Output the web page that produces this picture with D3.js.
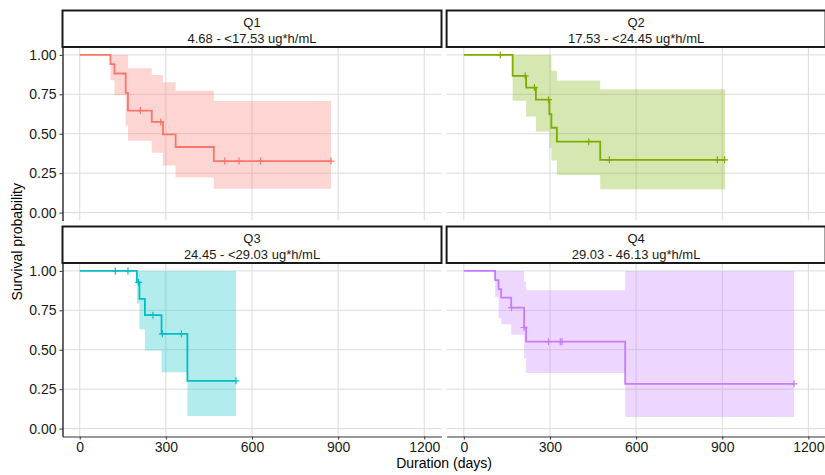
<!DOCTYPE html>
<html>
<head>
<meta charset="utf-8">
<script src="https://cdn.jsdelivr.net/npm/d3@7/dist/d3.min.js"></script>
<style>
  body { margin: 0; background: #fff; }
  text { font-family: "Liberation Sans", Arial, sans-serif; }
</style>
</head>
<body>
<div id="chart"></div>
<script>
// facets
var groups = ['Q1', 'Q2', 'Q3', 'Q4']
var ranges = ['4.68 - <17.53 ug*h/mL', '17.53 - <24.45 ug*h/mL', '24.45 - <29.03 ug*h/mL', '29.03 - 46.13 ug*h/mL']
var colors = ['#F8766D', '#7CAE00', '#00BFC4', '#C77CFF']

// Kaplan-Meier steps (time in days)
var q1Time   = [0, 107, 121, 160, 168, 251, 290, 334, 467, 875]
var q1Surv   = [1, 0.941, 0.882, 0.759, 0.647, 0.575, 0.496, 0.416, 0.327, 0.327]
var q1Upper  = [1, 1, 1, 1, 0.916, 0.873, 0.827, 0.772, 0.708, 0.708]
var q1Lower  = [1, 0.839, 0.744, 0.55, 0.456, 0.379, 0.299, 0.222, 0.152, 0.152]
var q1Censor = [211, 282, 505, 555, 630, 875]

var q2Time   = [0, 170, 217, 251, 298, 305, 324, 475, 910]
var q2Surv   = [1, 0.867, 0.793, 0.716, 0.624, 0.538, 0.45, 0.335, 0.335]
var q2Upper  = [1, 1, 1, 1, 1, 0.9, 0.838, 0.782, 0.782]
var q2Lower  = [1, 0.71, 0.609, 0.515, 0.41, 0.33, 0.239, 0.148, 0.148]
var q2Censor = [127, 214, 246, 295, 435, 507, 883, 908]

var q3Time   = [0, 199, 208, 227, 285, 375, 544]
var q3Surv   = [1, 0.927, 0.822, 0.719, 0.601, 0.303, 0.303]
var q3Upper  = [1, 1, 1, 1, 1, 1, 1]
var q3Lower  = [1, 0.794, 0.63, 0.496, 0.357, 0.08, 0.08]
var q3Censor = [124, 168, 205, 255, 288, 354, 544]

var q4Time   = [0, 109, 121, 130, 165, 210, 217, 562, 1150]
var q4Surv   = [1, 0.941, 0.885, 0.831, 0.767, 0.641, 0.551, 0.284, 0.284]
var q4Upper  = [1, 1, 1, 1, 1, 0.93, 0.878, 1, 1]
var q4Lower  = [1, 0.836, 0.7, 0.662, 0.595, 0.448, 0.352, 0.073, 0.073]
var q4Censor = [166, 210, 295, 336, 342, 1150]

var xTicks = [0, 300, 600, 900, 1200]
var yTicks = [0, 0.25, 0.5, 0.75, 1]

var times   = [q1Time, q2Time, q3Time, q4Time]
var survs   = [q1Surv, q2Surv, q3Surv, q4Surv]
var uppers  = [q1Upper, q2Upper, q3Upper, q4Upper]
var lowers  = [q1Lower, q2Lower, q3Lower, q4Lower]
var censors = [q1Censor, q2Censor, q3Censor, q4Censor]

var width = 825, height = 475
var panelW = 379, panelH = 173.5, stripH = 36.5
var colX = [62.5, 446.6], rowY = [47, 263]

var svg = d3.select('#chart')
  .append('svg')
  .attr('width', width)
  .attr('height', height)

var x = d3.scaleLinear().domain([-60, 1260]).range([0, panelW])
var y = d3.scaleLinear().domain([-0.05, 1.05]).range([panelH, 0])

var line = d3.line().curve(d3.curveStepAfter).x(d => x(d.t)).y(d => y(d.s))
var band = d3.area().curve(d3.curveStepAfter).x(d => x(d.t)).y0(d => y(d.lo)).y1(d => y(d.hi))

groups.forEach((name, i) => {
  var col = i % 2, row = Math.floor(i / 2)
  var g = svg.append('g').attr('transform', `translate(${colX[col]},${rowY[row]})`)

  // grid
  g.selectAll('.gy').data(yTicks).enter().append('line')
    .attr('x1', 0).attr('x2', panelW)
    .attr('y1', d => y(d)).attr('y2', d => y(d))
    .attr('stroke', '#dcdcdc').attr('stroke-width', 1)
  g.selectAll('.gx').data(xTicks).enter().append('line')
    .attr('y1', 0).attr('y2', panelH)
    .attr('x1', d => x(d)).attr('x2', d => x(d))
    .attr('stroke', '#dcdcdc').attr('stroke-width', 1)

  var pts = times[i].map((t, k) => ({t: t, s: survs[i][k], hi: uppers[i][k], lo: lowers[i][k]}))

  g.append('path').datum(pts)
    .attr('d', band)
    .attr('fill', colors[i]).attr('fill-opacity', 0.3)

  g.append('path').datum(pts)
    .attr('d', line)
    .attr('fill', 'none')
    .attr('stroke', colors[i]).attr('stroke-width', 1.8)

  // censor marks sit on the curve
  var survAt = t => {
    var s = 1
    times[i].forEach((tt, k) => { if (tt <= t) s = survs[i][k] })
    return s
  }
  var cg = g.selectAll('.cens').data(censors[i]).enter().append('g')
    .attr('transform', d => `translate(${x(d)},${y(survAt(d))})`)
  cg.append('path')
    .attr('d', 'M-3.5,0H3.5M0,-3.5V3.5')
    .attr('stroke', colors[i]).attr('stroke-width', 1.2)

  // axes
  if (col === 0) {
    var ay = g.append('g')
      .call(d3.axisLeft(y).tickValues(yTicks).tickFormat(d3.format('.2f')).tickSize(3).tickSizeOuter(0).tickPadding(3))
    ay.select('.domain').attr('stroke', '#000').attr('stroke-width', 1.2)
    ay.selectAll('.tick line').attr('stroke', '#333')
    ay.selectAll('.tick text').attr('fill', '#1a1a1a').style('font-size', '14px')
  }
  if (row === 1) {
    var ax = g.append('g').attr('transform', `translate(0,${panelH})`)
      .call(d3.axisBottom(x).tickValues(xTicks).tickFormat(d3.format('d')).tickSize(3).tickSizeOuter(0).tickPadding(3))
    ax.select('.domain').attr('stroke', '#333').attr('stroke-width', 1.2)
    ax.selectAll('.tick line').attr('stroke', '#333')
    ax.selectAll('.tick text').attr('fill', '#1a1a1a').style('font-size', '14px')
  }

  // strip
  var sg = svg.append('g').attr('transform', `translate(${colX[col]},${rowY[row] - stripH})`)
  sg.append('rect')
    .attr('x', 0).attr('y', 0).attr('width', panelW).attr('height', stripH)
    .attr('fill', '#fff').attr('stroke', '#1a1a1a').attr('stroke-width', 2)
  sg.append('text').attr('x', panelW / 2).attr('y', 16.5)
    .attr('text-anchor', 'middle').style('font-size', '13px').attr('fill', '#1a1a1a')
    .text(name)
  sg.append('text').attr('x', panelW / 2).attr('y', 32)
    .attr('text-anchor', 'middle').style('font-size', '13px').attr('fill', '#1a1a1a')
    .text(ranges[i])
})

svg.append('text')
  .attr('transform', `translate(22,${(rowY[0] + rowY[1] + panelH) / 2}) rotate(-90)`)
  .attr('text-anchor', 'middle').style('font-size', '14px').attr('fill', '#000')
  .text('Survival probability')

svg.append('text')
  .attr('x', (colX[0] + colX[1] + panelW) / 2).attr('y', 468)
  .attr('text-anchor', 'middle').style('font-size', '14px').attr('fill', '#000')
  .text('Duration (days)')
</script>
</body>
</html>
